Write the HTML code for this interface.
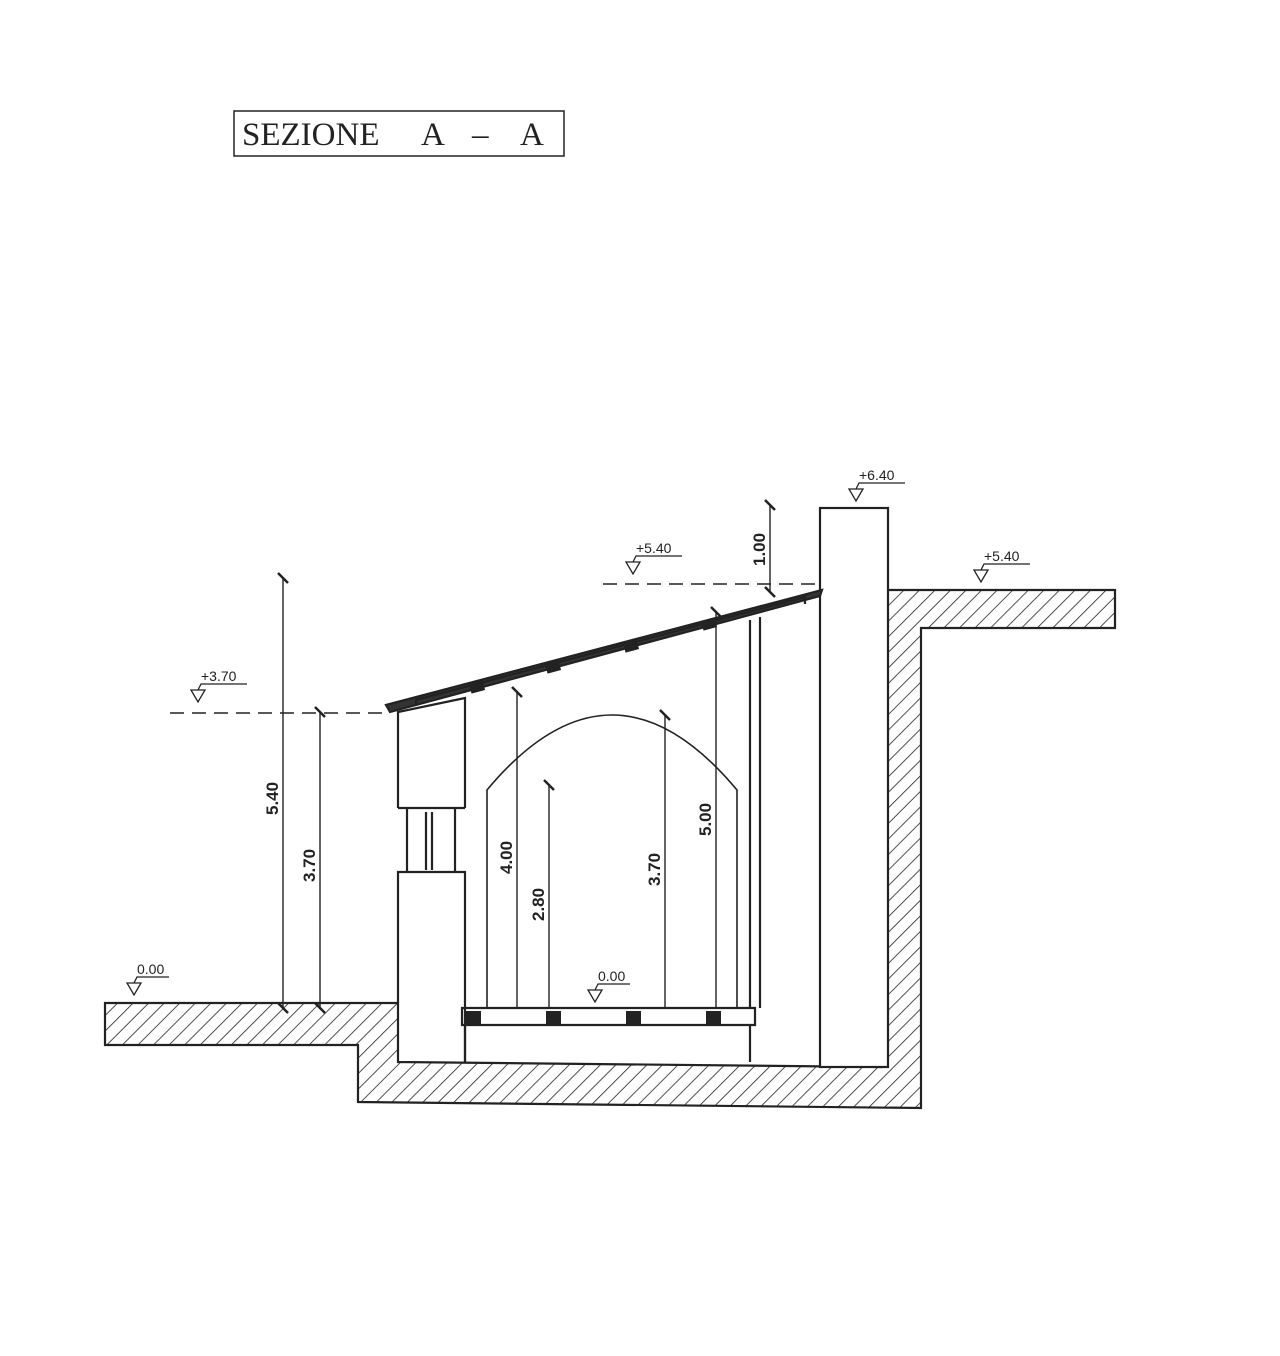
<!DOCTYPE html>
<html><head><meta charset="utf-8"><style>body{margin:0;background:#fff}svg{display:block}</style></head><body>
<svg width="1280" height="1356" viewBox="0 0 1280 1356" xmlns="http://www.w3.org/2000/svg" font-family="Liberation Sans, sans-serif">
<defs>
<pattern id="h" patternUnits="userSpaceOnUse" width="11" height="11" patternTransform="rotate(45)">
<line x1="0" y1="0" x2="0" y2="11" stroke="#222" stroke-width="1.6"/></pattern>
</defs>
<rect width="1280" height="1356" fill="#fff"/>
<rect x="234" y="111" width="330" height="45" fill="none" stroke="#222" stroke-width="1.5"/>
<text x="242" y="145" font-family="Liberation Serif, serif" font-size="33" fill="#222">SEZIONE</text>
<text x="421" y="145" font-family="Liberation Serif, serif" font-size="33" fill="#222">A</text>
<text x="472" y="145" font-family="Liberation Serif, serif" font-size="33" fill="#222">–</text>
<text x="520" y="145" font-family="Liberation Serif, serif" font-size="33" fill="#222">A</text>
<g stroke="#222" fill="none" stroke-width="2.2">
<path d="M105,1003 L398,1003 L398,1062 L881,1067 L881,590 L888,590 L1115,590 L1115,628 L921,628 L921,1108 L358,1102 L358,1045 L105,1045 Z" fill="url(#h)"/>
<rect x="820" y="508" width="68" height="559" fill="#fff"/>
<path d="M398,1003 L398,872 L465,872 L465,1062"/>
<path d="M398,808 L398,712 L465,698 L465,808 M398,808 L465,808"/>
<path d="M407,808 L407,872 M455,808 L455,872 M426,812 L426,870 M432,812 L432,870"/>
<path d="M462,1008 L755,1008 L755,1025 L462,1025 Z M465,1025 L465,1062 M750,1025 L750,1062"/>
<path d="M386,705 L822,590 L820,596 L390,712 Z" fill="#333"/>
<path d="M416,706 L416,700 L805,597 L805,604"/>
<path d="M750,620 L750,1008 M760,617 L760,1008"/>
<path d="M487,1008 L487,790 Q612,640 737,790 L737,1008" stroke-width="1.6"/>
</g>
<g fill="#222">
<rect x="470" y="682" width="14" height="10" transform="rotate(-15 477 687)"/>
<rect x="546" y="662" width="14" height="10" transform="rotate(-15 553 667)"/>
<rect x="624" y="641" width="14" height="10" transform="rotate(-15 631 646)"/>
<rect x="702" y="619" width="14" height="10" transform="rotate(-15 709 624)"/>
<rect x="466" y="1011" width="15" height="13"/><rect x="546" y="1011" width="15" height="13"/>
<rect x="626" y="1011" width="15" height="13"/><rect x="706" y="1011" width="15" height="13"/>
</g>
<g stroke="#222" stroke-width="1.4" fill="none">
<path d="M170,713 L390,713 M603,584 L822,584" stroke-dasharray="14,8"/>
<path d="M283,578 L283,1008 M320,712 L320,1008 M517,692 L517,1008 M549,785 L549,1008 M665,715 L665,1008 M716,612 L716,1008 M770,505 L770,592"/>
<path d="M278,573 l10,10 M278,1003 l10,10 M315,707 l10,10 M315,1003 l10,10 M512,687 l10,10 M544,780 l10,10 M660,710 l10,10 M711,607 l10,10 M765,500 l10,10 M765,587 l10,10" stroke-width="2.5"/>
</g>
<g font-size="17" font-weight="bold" fill="#222">
<text transform="translate(278,815) rotate(-90)">5.40</text>
<text transform="translate(315,882) rotate(-90)">3.70</text>
<text transform="translate(512,874) rotate(-90)">4.00</text>
<text transform="translate(544,921) rotate(-90)">2.80</text>
<text transform="translate(660,886) rotate(-90)">3.70</text>
<text transform="translate(711,836) rotate(-90)">5.00</text>
<text transform="translate(765,566) rotate(-90)">1.00</text>
</g>
<g font-size="14" fill="#222" stroke="#222" stroke-width="1.3">
<g transform="translate(191,690)"><path d="M0,0 L14,0 L7,12 Z M7,0 L10,-6 L56,-6" fill="none"/><text x="10" y="-9" stroke="none">+3.70</text></g>
<g transform="translate(127,983)"><path d="M0,0 L14,0 L7,12 Z M7,0 L10,-6 L42,-6" fill="none"/><text x="10" y="-9" stroke="none">0.00</text></g>
<g transform="translate(588,990)"><path d="M0,0 L14,0 L7,12 Z M7,0 L10,-6 L42,-6" fill="none"/><text x="10" y="-9" stroke="none">0.00</text></g>
<g transform="translate(626,562)"><path d="M0,0 L14,0 L7,12 Z M7,0 L10,-6 L56,-6" fill="none"/><text x="10" y="-9" stroke="none">+5.40</text></g>
<g transform="translate(849,489)"><path d="M0,0 L14,0 L7,12 Z M7,0 L10,-6 L56,-6" fill="none"/><text x="10" y="-9" stroke="none">+6.40</text></g>
<g transform="translate(974,570)"><path d="M0,0 L14,0 L7,12 Z M7,0 L10,-6 L56,-6" fill="none"/><text x="10" y="-9" stroke="none">+5.40</text></g>
</g>
</svg>
</body></html>
